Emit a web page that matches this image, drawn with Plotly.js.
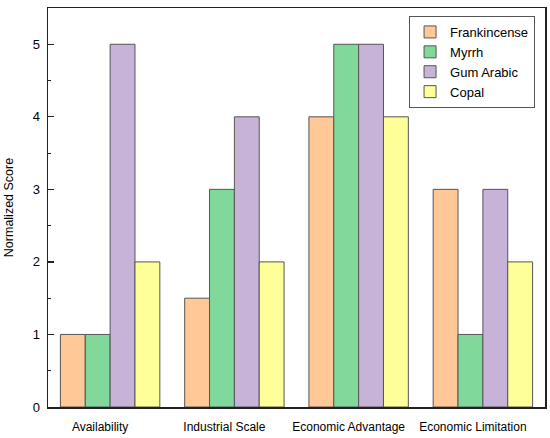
<!DOCTYPE html>
<html>
<head>
<meta charset="utf-8">
<script src="https://cdn.plot.ly/plotly-3.0.1.min.js"></script>
<style>html,body{margin:0;padding:0;background:#fff;}#chart{width:550px;height:438px;}</style>
</head>
<body>
<div id="chart"></div>
<script>
const categories = ["Availability", "Industrial Scale", "Economic Advantage", "Economic Limitation"];
const frankincense = [1, 1.5, 4, 3];
const myrrh = [1, 3, 5, 1];
const gumArabic = [5, 4, 5, 3];
const copal = [2, 2, 4, 2];
const seriesNames = ["Frankincense", "Myrrh", "Gum Arabic", "Copal"];
const seriesColors = ["#FFC896", "#80D99B", "#C8B3D8", "#FFFF99"];
const seriesValues = [frankincense, myrrh, gumArabic, copal];

const traces = seriesValues.map((vals, i) => ({
  type: "bar",
  name: seriesNames[i],
  x: categories,
  y: vals,
  marker: { color: seriesColors[i], line: { color: "#555555", width: 1 } }
}));

const layout = {
  width: 550, height: 438,
  margin: { l: 48, r: 5, t: 8, b: 31 },
  paper_bgcolor: "#ffffff", plot_bgcolor: "#ffffff",
  font: { family: "Liberation Sans, Arial, sans-serif", color: "#000" },
  barmode: "group",
  bargap: 0.2,
  bargroupgap: 0,
  showlegend: true,
  legend: {
    x: 0.98, y: 0.98, xanchor: "right", yanchor: "top",
    bgcolor: "#ffffff", bordercolor: "#555555", borderwidth: 1,
    font: { size: 13, color: "#000" },
    tracegroupgap: 0, itemwidth: 30
  },
  xaxis: {
    showline: true, mirror: true, linecolor: "#222", linewidth: 1.5,
    ticks: "", showgrid: false, zeroline: false,
    tickfont: { size: 12 }, ticklabelshift: -10, ticklabelstandoff: 8
  },
  yaxis: {
    range: [0, 5.5], dtick: 1, tick0: 0,
    showline: true, mirror: true, linecolor: "#222", linewidth: 1.5,
    ticks: "inside", ticklen: 6, tickcolor: "#222", tickwidth: 1.2,
    minor: { dtick: 0.5, ticks: "inside", ticklen: 3, tickcolor: "#222", tickwidth: 1 },
    showgrid: false, zeroline: false,
    tickfont: { size: 13 }, ticklabelstandoff: 4,
    title: { text: "Normalized Score", font: { size: 12.5 }, standoff: 16 }
  }
};

Plotly.newPlot("chart", traces, layout, { displayModeBar: false, staticPlot: true });
</script>
</body>
</html>
